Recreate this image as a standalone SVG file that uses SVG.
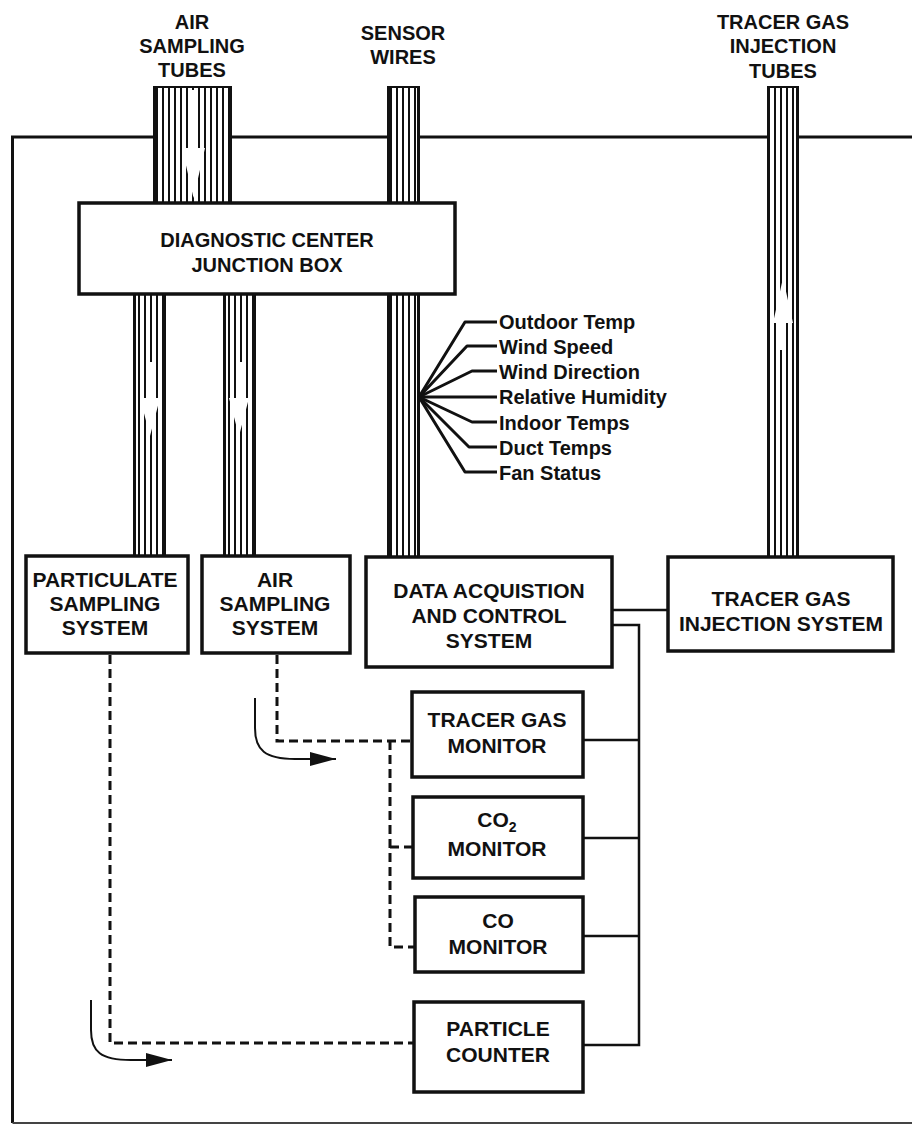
<svg xmlns="http://www.w3.org/2000/svg" width="912" height="1132" viewBox="0 0 912 1132">
<defs>
<style>
text{font-family:"Liberation Sans",Arial,sans-serif;font-weight:bold;fill:#111}
.hdr{font-size:20px;text-anchor:middle}
.lbl{font-size:21px;text-anchor:middle}
.fan{font-size:20px}
.box{fill:#fff;stroke:#111;stroke-width:3.5}
.edge{stroke:#111;stroke-width:3;fill:none}
.conn{stroke:#111;stroke-width:2.5;fill:none}
.dash{stroke:#111;stroke-width:3;fill:none;stroke-dasharray:9 5}
.curve{stroke:#111;stroke-width:2;fill:none}
.fanl{stroke:#111;stroke-width:3;fill:none;stroke-linejoin:round}
.arr{fill:#fff}
</style>
<pattern id="stripes" patternUnits="userSpaceOnUse" width="6" height="10">
<rect width="6" height="10" fill="#fff"/>
<rect x="0" width="2" height="10" fill="#111"/>
</pattern>
<marker id="ah" viewBox="0 0 26 14" refX="26" refY="7" markerWidth="26" markerHeight="14" markerUnits="userSpaceOnUse" orient="auto">
<path d="M0,0 L26,7 L0,14 z" fill="#111"/>
</marker>
</defs>
<rect width="912" height="1132" fill="#fff"/>

<g id="frame">
<path d="M930,137 L12.5,137 L12.5,1123" class="edge"/>
<path d="M12.5,1123 L930,1123" stroke="#444" stroke-width="2" fill="none"/>
</g>

<g id="header-labels">
<text class="hdr" x="192" y="29">AIR</text>
<text class="hdr" x="192" y="53">SAMPLING</text>
<text class="hdr" x="192" y="77">TUBES</text>
<text class="hdr" x="403" y="40">SENSOR</text>
<text class="hdr" x="403" y="64">WIRES</text>
<text class="hdr" x="783" y="29">TRACER GAS</text>
<text class="hdr" x="783" y="53">INJECTION</text>
<text class="hdr" x="783" y="78">TUBES</text>
</g>

<g id="tubes">
<g id="tube-air-top">
<rect x="153" y="86" width="79" height="117" fill="url(#stripes)"/>
<line x1="154.5" y1="86" x2="154.5" y2="203" class="edge"/>
<line x1="230.5" y1="86" x2="230.5" y2="203" class="edge"/>
<line x1="153" y1="87" x2="232" y2="87" stroke="#111" stroke-width="2"/>
<path class="arr" d="M189,90 L198,90 L198,148 L205,148 L193.5,198 L182,148 L189,148 z"/>
</g>
<g id="tube-sensor">
<rect x="387" y="86" width="33" height="117" fill="url(#stripes)"/>
<line x1="388.5" y1="86" x2="388.5" y2="203" class="edge"/>
<line x1="418.5" y1="86" x2="418.5" y2="203" class="edge"/>
<line x1="387" y1="87" x2="420" y2="87" stroke="#111" stroke-width="2"/>
<rect x="387" y="294" width="33" height="263" fill="url(#stripes)"/>
<line x1="388.5" y1="294" x2="388.5" y2="557" class="edge"/>
<line x1="418.5" y1="294" x2="418.5" y2="557" class="edge"/>
</g>
<g id="tube-tracer">
<rect x="767" y="86" width="32" height="471" fill="url(#stripes)"/>
<line x1="768.5" y1="86" x2="768.5" y2="557" class="edge"/>
<line x1="797.5" y1="86" x2="797.5" y2="557" class="edge"/>
<line x1="767" y1="87" x2="799" y2="87" stroke="#111" stroke-width="2"/>
<path class="arr" d="M783,278 L793,323 L786,323 L786,350 L780,350 L780,323 L773,323 z"/>
</g>
<g id="tube-particulate">
<rect x="133" y="294" width="33" height="262" fill="url(#stripes)"/>
<line x1="134.5" y1="294" x2="134.5" y2="556" class="edge"/>
<line x1="164.5" y1="294" x2="164.5" y2="556" class="edge"/>
<path class="arr" d="M147,362 L153,362 L153,398 L160,398 L150,436 L140,398 L147,398 z"/>
</g>
<g id="tube-air-low">
<rect x="223" y="294" width="33" height="262" fill="url(#stripes)"/>
<line x1="224.5" y1="294" x2="224.5" y2="556" class="edge"/>
<line x1="254.5" y1="294" x2="254.5" y2="556" class="edge"/>
<path class="arr" d="M236,362 L242,362 L242,398 L249,398 L239,436 L229,398 L236,398 z"/>
</g>
</g>

<g id="connectors">
<g id="fan">
<path class="fanl" d="M419,397 L465,322 L497,322"/>
<path class="fanl" d="M419,397 L467,346 L497,346"/>
<path class="fanl" d="M419,397 L472,371 L497,371"/>
<path class="fanl" d="M419,397 L497,397"/>
<path class="fanl" d="M419,397 L472,422 L497,422"/>
<path class="fanl" d="M419,397 L469,447 L497,447"/>
<path class="fanl" d="M419,397 L465,472 L497,472"/>
</g>
<line class="conn" x1="612" y1="610" x2="668" y2="610"/>
<path class="conn" d="M612,625 L639,625 L639,1045 L583,1045"/>
<line class="conn" x1="583" y1="740" x2="639" y2="740"/>
<line class="conn" x1="583" y1="838" x2="639" y2="838"/>
<line class="conn" x1="583" y1="936" x2="639" y2="936"/>
<path class="dash" d="M277,655 L277,741 L412,741"/>
<path class="dash" d="M390,741 L390,947 L415,947"/>
<path class="dash" d="M390,847 L413,847"/>
<path class="dash" d="M110,655 L110,1043 L414,1043"/>
<path class="curve" d="M255,698 L255,728 C255,750 265,759 295,759 L336,759" marker-end="url(#ah)"/>
<path class="curve" d="M91,1000 L91,1030 C91,1052 101,1060 131,1060 L172,1060" marker-end="url(#ah)"/>
</g>

<g id="fan-labels">
<text class="fan" x="499" y="329">Outdoor Temp</text>
<text class="fan" x="499" y="354">Wind Speed</text>
<text class="fan" x="499" y="379">Wind Direction</text>
<text class="fan" x="499" y="404">Relative Humidity</text>
<text class="fan" x="499" y="430">Indoor Temps</text>
<text class="fan" x="499" y="455">Duct Temps</text>
<text class="fan" x="499" y="480">Fan Status</text>
</g>

<g id="junction-box">
<rect class="box" x="79" y="203" width="376" height="91"/>
<text class="hdr" x="267" y="247">DIAGNOSTIC CENTER</text>
<text class="hdr" x="267" y="272">JUNCTION BOX</text>
</g>

<g id="particulate-sampling">
<rect class="box" x="26" y="556" width="162" height="97"/>
<text class="lbl" x="105" y="587">PARTICULATE</text>
<text class="lbl" x="105" y="611">SAMPLING</text>
<text class="lbl" x="105" y="635">SYSTEM</text>
</g>

<g id="air-sampling">
<rect class="box" x="202" y="556" width="148" height="97"/>
<text class="lbl" x="275" y="587">AIR</text>
<text class="lbl" x="275" y="611">SAMPLING</text>
<text class="lbl" x="275" y="635">SYSTEM</text>
</g>

<g id="data-acquisition">
<rect class="box" x="366" y="557" width="246" height="110"/>
<text class="lbl" x="489" y="598">DATA ACQUISTION</text>
<text class="lbl" x="489" y="623">AND CONTROL</text>
<text class="lbl" x="489" y="648">SYSTEM</text>
</g>

<g id="tracer-injection">
<rect class="box" x="668" y="557" width="225" height="94"/>
<text class="lbl" x="781" y="606">TRACER GAS</text>
<text class="lbl" x="781" y="631">INJECTION SYSTEM</text>
</g>

<g id="tracer-monitor">
<rect class="box" x="412" y="692" width="171" height="85"/>
<text class="lbl" x="497" y="727">TRACER GAS</text>
<text class="lbl" x="497" y="753">MONITOR</text>
</g>

<g id="co2-monitor">
<rect class="box" x="413" y="797" width="170" height="81"/>
<text class="lbl" x="497" y="827">CO<tspan dy="5" font-size="14">2</tspan></text>
<text class="lbl" x="497" y="856">MONITOR</text>
</g>

<g id="co-monitor">
<rect class="box" x="415" y="897" width="168" height="75"/>
<text class="lbl" x="498" y="928">CO</text>
<text class="lbl" x="498" y="954">MONITOR</text>
</g>

<g id="particle-counter">
<rect class="box" x="414" y="1002" width="169" height="90"/>
<text class="lbl" x="498" y="1036">PARTICLE</text>
<text class="lbl" x="498" y="1062">COUNTER</text>
</g>
</svg>
